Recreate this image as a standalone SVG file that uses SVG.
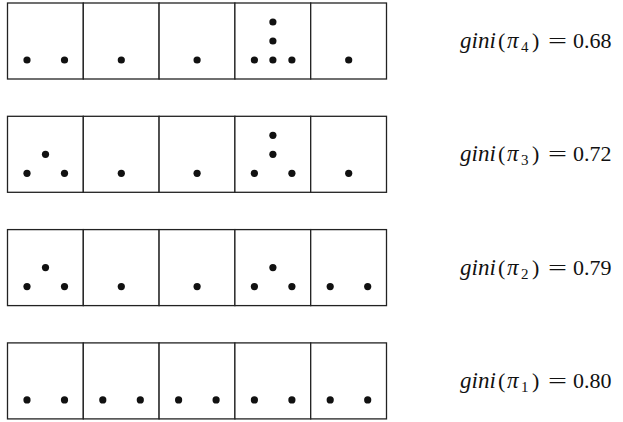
<svg xmlns="http://www.w3.org/2000/svg" width="623" height="422" viewBox="0 0 623 422">
<style>
.cell{fill:#fff;stroke:#222;stroke-width:1.3}
.dot{fill:#111}
.lbl{font-family:"Liberation Serif","Times New Roman",serif;font-size:22px;fill:#111}
.it{font-style:italic;font-size:23px}
.sub{font-size:15px}
</style>
<defs>
<circle id="d" r="3.6" class="dot"/>
<g id="cellbox"><rect x="0" y="0" width="75.8" height="76" class="cell"/></g>
<g id="L"><use href="#d" x="19.5" y="57"/></g>
<g id="R"><use href="#d" x="57" y="57"/></g>
<g id="C"><use href="#d" x="38" y="57"/></g>
<g id="M"><use href="#d" x="38" y="38"/></g>
<g id="T"><use href="#d" x="38" y="19"/></g>
</defs>
<rect width="623" height="422" fill="#fff"/>

<g id="row-pi4" transform="translate(7.5,3)">
  <g id="pi4-c1"><use href="#cellbox"/><use href="#L"/><use href="#R"/></g>
  <g id="pi4-c2" transform="translate(75.8,0)"><use href="#cellbox"/><use href="#C"/></g>
  <g id="pi4-c3" transform="translate(151.6,0)"><use href="#cellbox"/><use href="#C"/></g>
  <g id="pi4-c4" transform="translate(227.4,0)"><use href="#cellbox"/><use href="#L"/><use href="#C"/><use href="#R"/><use href="#M"/><use href="#T"/></g>
  <g id="pi4-c5" transform="translate(303.2,0)"><use href="#cellbox"/><use href="#C"/></g>
</g>

<g id="row-pi3" transform="translate(7.5,116.3)">
  <g id="pi3-c1"><use href="#cellbox"/><use href="#L"/><use href="#R"/><use href="#M"/></g>
  <g id="pi3-c2" transform="translate(75.8,0)"><use href="#cellbox"/><use href="#C"/></g>
  <g id="pi3-c3" transform="translate(151.6,0)"><use href="#cellbox"/><use href="#C"/></g>
  <g id="pi3-c4" transform="translate(227.4,0)"><use href="#cellbox"/><use href="#L"/><use href="#R"/><use href="#M"/><use href="#T"/></g>
  <g id="pi3-c5" transform="translate(303.2,0)"><use href="#cellbox"/><use href="#C"/></g>
</g>

<g id="row-pi2" transform="translate(7.5,229.6)">
  <g id="pi2-c1"><use href="#cellbox"/><use href="#L"/><use href="#R"/><use href="#M"/></g>
  <g id="pi2-c2" transform="translate(75.8,0)"><use href="#cellbox"/><use href="#C"/></g>
  <g id="pi2-c3" transform="translate(151.6,0)"><use href="#cellbox"/><use href="#C"/></g>
  <g id="pi2-c4" transform="translate(227.4,0)"><use href="#cellbox"/><use href="#L"/><use href="#R"/><use href="#M"/></g>
  <g id="pi2-c5" transform="translate(303.2,0)"><use href="#cellbox"/><use href="#L"/><use href="#R"/></g>
</g>

<g id="row-pi1" transform="translate(7.5,342.9)">
  <g id="pi1-c1"><use href="#cellbox"/><use href="#L"/><use href="#R"/></g>
  <g id="pi1-c2" transform="translate(75.8,0)"><use href="#cellbox"/><use href="#L"/><use href="#R"/></g>
  <g id="pi1-c3" transform="translate(151.6,0)"><use href="#cellbox"/><use href="#L"/><use href="#R"/></g>
  <g id="pi1-c4" transform="translate(227.4,0)"><use href="#cellbox"/><use href="#L"/><use href="#R"/></g>
  <g id="pi1-c5" transform="translate(303.2,0)"><use href="#cellbox"/><use href="#L"/><use href="#R"/></g>
</g>

<g id="labels" class="lbl">
  <text y="48"><tspan x="460" class="it">gini</tspan><tspan x="498">(</tspan><tspan x="507" class="it">π</tspan><tspan x="521" dy="4" class="sub">4</tspan><tspan x="532" dy="-4">)</tspan><tspan x="548" textLength="19" lengthAdjust="spacingAndGlyphs">=</tspan><tspan x="573">0.68</tspan></text>
  <text y="161.3"><tspan x="460" class="it">gini</tspan><tspan x="498">(</tspan><tspan x="507" class="it">π</tspan><tspan x="521" dy="4" class="sub">3</tspan><tspan x="532" dy="-4">)</tspan><tspan x="548" textLength="19" lengthAdjust="spacingAndGlyphs">=</tspan><tspan x="573">0.72</tspan></text>
  <text y="274.6"><tspan x="460" class="it">gini</tspan><tspan x="498">(</tspan><tspan x="507" class="it">π</tspan><tspan x="521" dy="4" class="sub">2</tspan><tspan x="532" dy="-4">)</tspan><tspan x="548" textLength="19" lengthAdjust="spacingAndGlyphs">=</tspan><tspan x="573">0.79</tspan></text>
  <text y="387.9"><tspan x="460" class="it">gini</tspan><tspan x="498">(</tspan><tspan x="507" class="it">π</tspan><tspan x="521" dy="4" class="sub">1</tspan><tspan x="532" dy="-4">)</tspan><tspan x="548" textLength="19" lengthAdjust="spacingAndGlyphs">=</tspan><tspan x="573">0.80</tspan></text>
</g>
</svg>
